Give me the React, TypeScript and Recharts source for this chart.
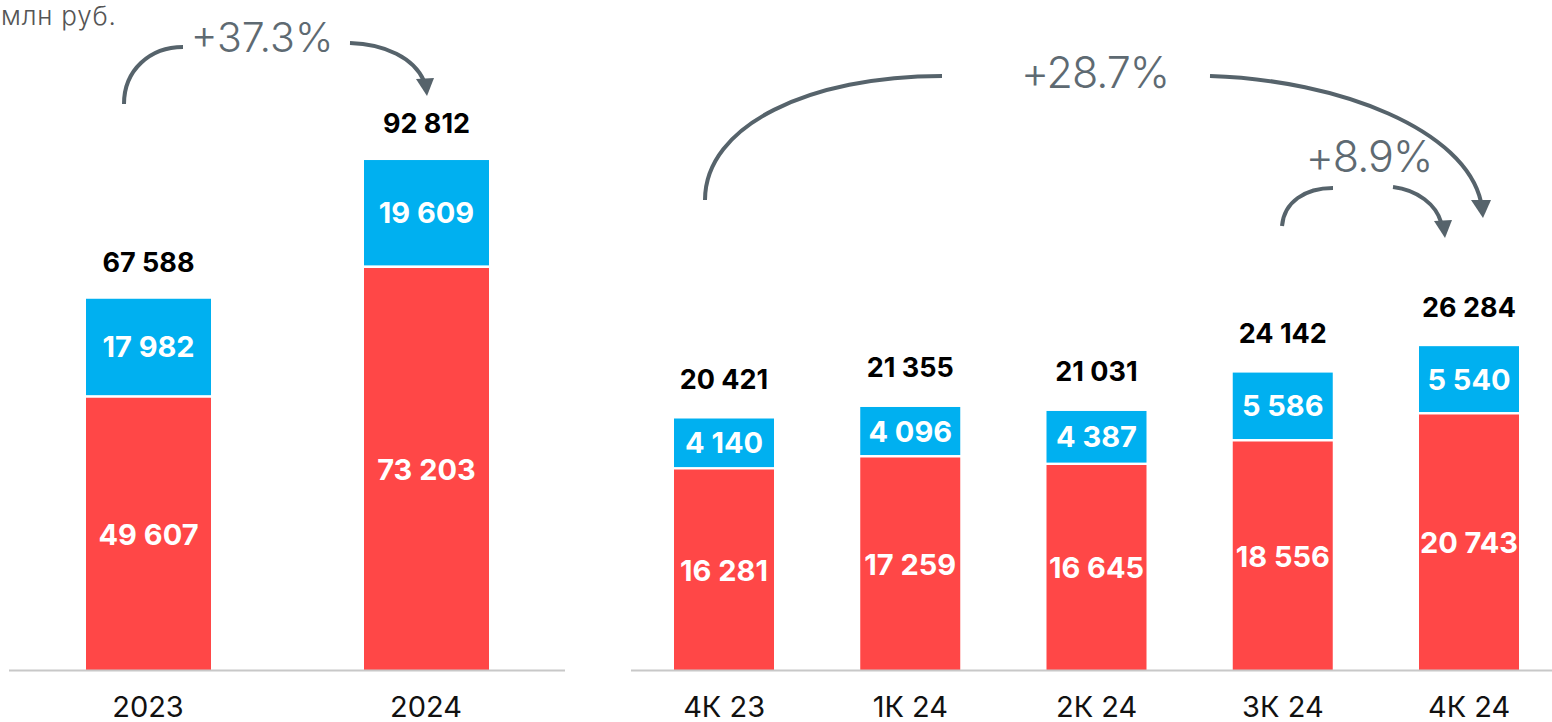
import React from "react";
import { BarChart, Bar, XAxis, YAxis, LabelList } from "recharts";

const annualCategories = ["2023", "2024"];
const annualRed = [49607, 73203];
const annualBlue = [17982, 19609];
const annualTotal = [67588, 92812];

const quarterCategories = ["4К 23", "1К 24", "2К 24", "3К 24", "4К 24"];
const quarterRed = [16281, 17259, 16645, 18556, 20743];
const quarterBlue = [4140, 4096, 4387, 5586, 5540];
const quarterTotal = [20421, 21355, 21031, 24142, 26284];

const unitLabel = "млн руб.";
const growthAnnual = "+37.3%";
const growthYoY = "+28.7%";
const growthQoQ = "+8.9%";

const RED = "#FF4747";
const BLUE = "#00B0F0";
const ARROW = "#56636B";
const ARROW_TEXT = "#5E6A72";
const FONT = "Inter, 'Open Sans', sans-serif";

const annualData = annualCategories.map((c, i) => ({
  cat: c,
  red: annualRed[i],
  blue: annualBlue[i],
  total: annualTotal[i],
}));
const quarterData = quarterCategories.map((c, i) => ({
  cat: c,
  red: quarterRed[i],
  blue: quarterBlue[i],
  total: quarterTotal[i],
}));

const fmt = (v: number) => String(v).replace(/\B(?=(\d{3})+(?!\d))/g, " ");

const BlueShape = (p: any) => (
  <rect x={p.x} y={p.y} width={p.width} height={Math.max(0, p.height - 2.5)} fill={BLUE} />
);

const InsideLabel = (gap: number) => (p: any) => {
  const { x, y, width, height, value } = p;
  return (
    <text
      x={x + width / 2}
      y={y + (height - gap) / 2}
      textAnchor="middle"
      dominantBaseline="central"
      fill="#fff"
      fontFamily={FONT}
      fontWeight={700}
      fontSize={29}
    >
      {fmt(value)}
    </text>
  );
};

const TotalLabel = (offset: number) => (p: any) => {
  const { x, y, width, value } = p;
  return (
    <text
      x={x + width / 2}
      y={y - offset}
      textAnchor="middle"
      fill="#000"
      fontFamily={FONT}
      fontWeight={700}
      fontSize={27}
    >
      {fmt(value)}
    </text>
  );
};

const Tick = (p: any) => {
  const { x, y, payload } = p;
  return (
    <text
      x={x}
      y={y + 46}
      textAnchor="middle"
      fill="#111"
      fontFamily={FONT}
      fontWeight={400}
      fontSize={29}
    >
      {payload.value}
    </text>
  );
};

const axisLine = { stroke: "#C8C8C8", strokeWidth: 2 };

export default function App() {
  return (
    <div
      style={{
        position: "absolute",
        left: 0,
        top: 0,
        width: 1552,
        height: 722,
        overflow: "hidden",
        background: "#fff",
        fontFamily: FONT,
      }}
    >
      <div style={{ position: "absolute", left: 0, top: 0 }}>
        <BarChart
          width={575}
          height={722}
          data={annualData}
          margin={{ top: 120.5, right: 10, bottom: 0, left: 9 }}
        >
          <XAxis
            dataKey="cat"
            height={51.5}
            axisLine={axisLine}
            tickLine={false}
            tickSize={0}
            tickMargin={0}
            tick={<Tick />}
            interval={0}
          />
          <YAxis hide domain={[0, 100000]} />
          <Bar dataKey="red" stackId="a" fill={RED} barSize={125} isAnimationActive={false}>
            <LabelList dataKey="red" content={InsideLabel(0)} />
          </Bar>
          <Bar dataKey="blue" stackId="a" fill={BLUE} barSize={125} shape={BlueShape} isAnimationActive={false}>
            <LabelList dataKey="blue" content={InsideLabel(2.5)} />
            <LabelList dataKey="total" content={TotalLabel(27)} />
          </Bar>
        </BarChart>
      </div>
      <div style={{ position: "absolute", left: 631, top: 0 }}>
        <BarChart
          width={931.25}
          height={722}
          data={quarterData}
          margin={{ top: 176.9, right: 0, bottom: 0, left: 0 }}
        >
          <XAxis
            dataKey="cat"
            height={51.5}
            axisLine={axisLine}
            tickLine={false}
            tickSize={0}
            tickMargin={0}
            tick={<Tick />}
            interval={0}
          />
          <YAxis hide domain={[0, 40000]} />
          <Bar dataKey="red" stackId="a" fill={RED} barSize={100} isAnimationActive={false}>
            <LabelList dataKey="red" content={InsideLabel(0)} />
          </Bar>
          <Bar dataKey="blue" stackId="a" fill={BLUE} barSize={100} shape={BlueShape} isAnimationActive={false}>
            <LabelList dataKey="blue" content={InsideLabel(2.5)} />
            <LabelList dataKey="total" content={TotalLabel(29.5)} />
          </Bar>
        </BarChart>
      </div>
      <svg
        width={1552}
        height={722}
        style={{ position: "absolute", left: 0, top: 0, pointerEvents: "none" }}
      >
        <text x={1} y={25} fontFamily={FONT} fontSize={26} fontWeight={300} letterSpacing={0.8} fill="#555">
          {unitLabel}
        </text>

        <path d="M124,104 C124,70 150,47 183,47" stroke={ARROW} strokeWidth={4} fill="none" />
        <text x={262} y={52} textAnchor="middle" fontFamily={FONT} fontSize={41} fontWeight={300} fill={ARROW_TEXT}>
          {growthAnnual}
        </text>
        <path d="M350,43 C385,44 414,58 424,81" stroke={ARROW} strokeWidth={4} fill="none" />
        <polygon points="416,79 434,78 427,96" fill={ARROW} />

        <path d="M705,200 C705,125 810,76 942,76" stroke={ARROW} strokeWidth={4} fill="none" />
        <text x={1095} y={88} textAnchor="middle" fontFamily={FONT} fontSize={43} fontWeight={300} letterSpacing={-1} fill={ARROW_TEXT}>
          {growthYoY}
        </text>
        <path d="M1210,76 C1340,80 1465,130 1481,202" stroke={ARROW} strokeWidth={4} fill="none" />
        <polygon points="1471,200 1491,200 1483,218" fill={ARROW} />

        <path d="M1282,226 C1284,202 1305,188 1333,188" stroke={ARROW} strokeWidth={4} fill="none" />
        <text x={1369} y={172} textAnchor="middle" fontFamily={FONT} fontSize={43} fontWeight={300} letterSpacing={-1} fill={ARROW_TEXT}>
          {growthQoQ}
        </text>
        <path d="M1393,187 C1418,190 1436,205 1441,222" stroke={ARROW} strokeWidth={4} fill="none" />
        <polygon points="1434,221 1452,220 1445,238" fill={ARROW} />
      </svg>
    </div>
  );
}
